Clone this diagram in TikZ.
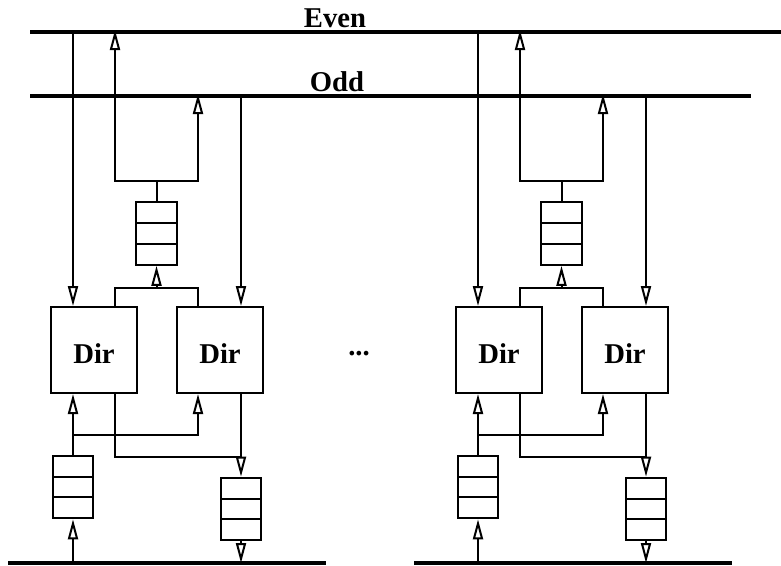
\documentclass[tikz,border=0pt]{standalone}
\usepackage{fontspec}
\setmainfont{Liberation Serif}
\usetikzlibrary{arrows.meta,calc}
\begin{document}
\begin{tikzpicture}[x=0.75pt,y=-0.75pt,
  wire/.style={line width=1.5pt},
  arr/.style={wire,-{Triangle[open,length=15pt,width=7.5pt,line width=1.5pt]}},
  bus/.style={line width=3.2pt},
  lbl/.style={font=\fontsize{21.5}{24}\selectfont\bfseries},
  dirbox/.style={draw,line width=1.5pt,minimum width=64.5pt,minimum height=64.5pt,inner sep=0pt,
    font=\fontsize{21.5}{24}\selectfont\bfseries,text height=20pt,text depth=0pt},
  queue/.style={draw,line width=1.5pt,minimum width=30.5pt,minimum height=47pt,inner sep=0pt,
    path picture={
      \coordinate (pa) at (path picture bounding box.north west);
      \coordinate (pb) at (path picture bounding box.south east);
      \draw[line width=1.5pt] ($(pa)!1/3!(pa|-pb)$) -- ($(pb|-pa)!1/3!(pb)$)
                              ($(pa)!2/3!(pa|-pb)$) -- ($(pb|-pa)!2/3!(pb)$);
    }}]
\useasboundingbox (0,0) rectangle (781,565);

% buses
\coordinate (evenL) at (30,32);  \coordinate (evenR) at (781,32);
\coordinate (oddL) at (30,96);   \coordinate (oddR) at (751,96);
\coordinate (b1L) at (8,563);    \coordinate (b1R) at (326,563);
\coordinate (b2L) at (414,563);  \coordinate (b2R) at (732,563);
\draw[bus] (evenL) -- (evenR);
\draw[bus] (oddL) -- (oddR);
\draw[bus] (b1L) -- (b1R);
\draw[bus] (b2L) -- (b2R);

\node[lbl] (even) at (335,18) {Even};
\node[lbl] (odd) at (337,82) {Odd};
\node[lbl] (dots) at (359,354) {...};

\foreach \o/\i in {0/1,405/2}{
  \node[dirbox] (dA\i) at (94+\o,350) {Dir};
  \node[dirbox] (dB\i) at (220+\o,350) {Dir};
  \node[queue] (qt\i) at (156.5+\o,233.5) {};
  \node[queue] (ql\i) at (73+\o,487) {};
  \node[queue] (qr\i) at (241+\o,509) {};
  \coordinate (eA\i) at (73+\o,32);
  \coordinate (eB\i) at (115+\o,30);
  \coordinate (oB\i) at (198+\o,94);
  \coordinate (oR\i) at (241+\o,96);
  \coordinate (j1\i) at (156.5+\o,181);
  \coordinate (c1\i) at (115+\o,288);
  \coordinate (c2\i) at (198+\o,288);
  \coordinate (j3\i) at (73+\o,435);
  \coordinate (j4\i) at (241+\o,457);
  \coordinate (bL\i) at (73+\o,563);
  \coordinate (bR\i) at (241+\o,563);

  \draw[arr] (eA\i) -- (eA\i |- dA\i.north);
  \draw[wire] (qt\i.north) -- (j1\i);
  \draw[arr] (j1\i) -| (eB\i);
  \draw[arr] (j1\i) -| (oB\i);
  \draw[wire] (c1\i |- dA\i.north) -- (c1\i) -- (c2\i) -- (c2\i |- dB\i.north);
  \draw[arr] (qt\i.south |- c1\i) -- (qt\i.south);
  \draw[arr] (oR\i) -- (oR\i |- dB\i.north);
  \draw[arr] (ql\i.north) -- (ql\i.north |- dA\i.south);
  \draw[arr] (j3\i) -| (c2\i |- dB\i.south);
  \draw[wire] (c1\i |- dA\i.south) |- (j4\i);
  \draw[arr] (j4\i |- dB\i.south) -- (qr\i.north);
  \draw[arr] (qr\i.south) -- (bR\i);
  \draw[arr] (bL\i) -- (ql\i.south);
}
\end{tikzpicture}
\end{document}
